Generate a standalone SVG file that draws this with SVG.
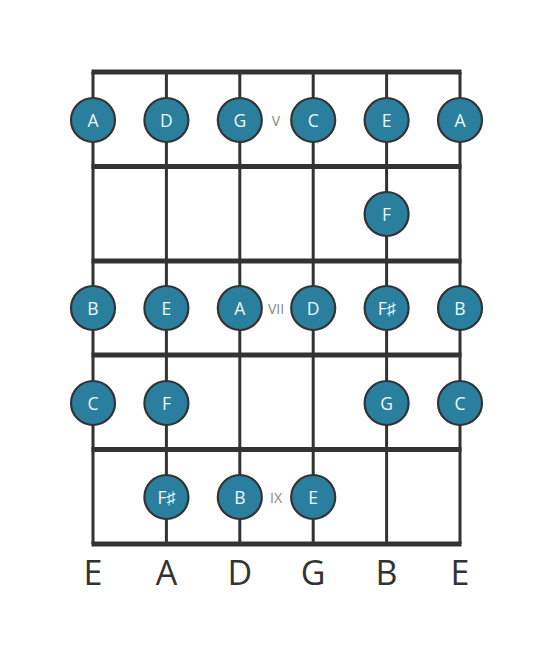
<svg xmlns="http://www.w3.org/2000/svg" width="553" height="656" viewBox="0 0 553 656">
<style>
.fret{stroke:#333;stroke-width:5;}
.str{stroke:#333;stroke-width:3;}
.dot circle{fill:#2a7f9e;stroke:#333;stroke-width:2.2;}
.dot text{fill:#eef6f8;font-family:"Open Sans",sans-serif;font-size:17.5px;text-anchor:middle;dominant-baseline:central;}
.fn{fill:#888;font-family:"Open Sans",sans-serif;font-size:14px;text-anchor:middle;dominant-baseline:central;}
.sn{fill:#333;font-family:"Open Sans",sans-serif;font-size:34px;text-anchor:middle;}
</style>
<rect width="553" height="656" fill="#fff"/>
<g id="connectors">
<line class="str" x1="93" y1="72" x2="93" y2="544"/>
<line class="str" x1="166.4" y1="72" x2="166.4" y2="544"/>
<line class="str" x1="239.8" y1="72" x2="239.8" y2="544"/>
<line class="str" x1="313.2" y1="72" x2="313.2" y2="544"/>
<line class="str" x1="386.6" y1="72" x2="386.6" y2="544"/>
<line class="str" x1="460" y1="72" x2="460" y2="544"/>
<line class="fret" x1="91.5" y1="72" x2="461.5" y2="72"/>
<line class="fret" x1="91.5" y1="166.5" x2="461.5" y2="166.5"/>
<line class="fret" x1="91.5" y1="261" x2="461.5" y2="261"/>
<line class="fret" x1="91.5" y1="355" x2="461.5" y2="355"/>
<line class="fret" x1="91.5" y1="449.5" x2="461.5" y2="449.5"/>
<line class="fret" x1="91.5" y1="544" x2="461.5" y2="544"/>
</g>
<g id="fret-labels">
<text class="fn" x="276" y="120">V</text>
<text class="fn" x="276" y="308">VII</text>
<text class="fn" x="276" y="497">IX</text>
</g>
<g id="n1" class="dot"><circle cx="93" cy="120" r="22"/><text x="93" y="120">A</text></g>
<g id="n2" class="dot"><circle cx="166.4" cy="120" r="22"/><text x="166.4" y="120">D</text></g>
<g id="n3" class="dot"><circle cx="239.8" cy="120" r="22"/><text x="239.8" y="120">G</text></g>
<g id="n4" class="dot"><circle cx="313.2" cy="120" r="22"/><text x="313.2" y="120">C</text></g>
<g id="n5" class="dot"><circle cx="386.6" cy="120" r="22"/><text x="386.6" y="120">E</text></g>
<g id="n6" class="dot"><circle cx="460" cy="120" r="22"/><text x="460" y="120">A</text></g>
<g id="n7" class="dot"><circle cx="386.6" cy="214" r="22"/><text x="386.6" y="214">F</text></g>
<g id="n8" class="dot"><circle cx="93" cy="308" r="22"/><text x="93" y="308">B</text></g>
<g id="n9" class="dot"><circle cx="166.4" cy="308" r="22"/><text x="166.4" y="308">E</text></g>
<g id="n10" class="dot"><circle cx="239.8" cy="308" r="22"/><text x="239.8" y="308">A</text></g>
<g id="n11" class="dot"><circle cx="313.2" cy="308" r="22"/><text x="313.2" y="308">D</text></g>
<g id="n12" class="dot"><circle cx="386.6" cy="308" r="22"/><text x="386.6" y="308">F♯</text></g>
<g id="n13" class="dot"><circle cx="460" cy="308" r="22"/><text x="460" y="308">B</text></g>
<g id="n14" class="dot"><circle cx="93" cy="403" r="22"/><text x="93" y="403">C</text></g>
<g id="n15" class="dot"><circle cx="166.4" cy="403" r="22"/><text x="166.4" y="403">F</text></g>
<g id="n16" class="dot"><circle cx="386.6" cy="403" r="22"/><text x="386.6" y="403">G</text></g>
<g id="n17" class="dot"><circle cx="460" cy="403" r="22"/><text x="460" y="403">C</text></g>
<g id="n18" class="dot"><circle cx="166.4" cy="497" r="22"/><text x="166.4" y="497">F♯</text></g>
<g id="n19" class="dot"><circle cx="239.8" cy="497" r="22"/><text x="239.8" y="497">B</text></g>
<g id="n20" class="dot"><circle cx="313.2" cy="497" r="22"/><text x="313.2" y="497">E</text></g>
<g id="string-names">
<text class="sn" x="93" y="585">E</text>
<text class="sn" x="166.4" y="585">A</text>
<text class="sn" x="239.8" y="585">D</text>
<text class="sn" x="313.2" y="585">G</text>
<text class="sn" x="386.6" y="585">B</text>
<text class="sn" x="460" y="585">E</text>
</g>
</svg>
